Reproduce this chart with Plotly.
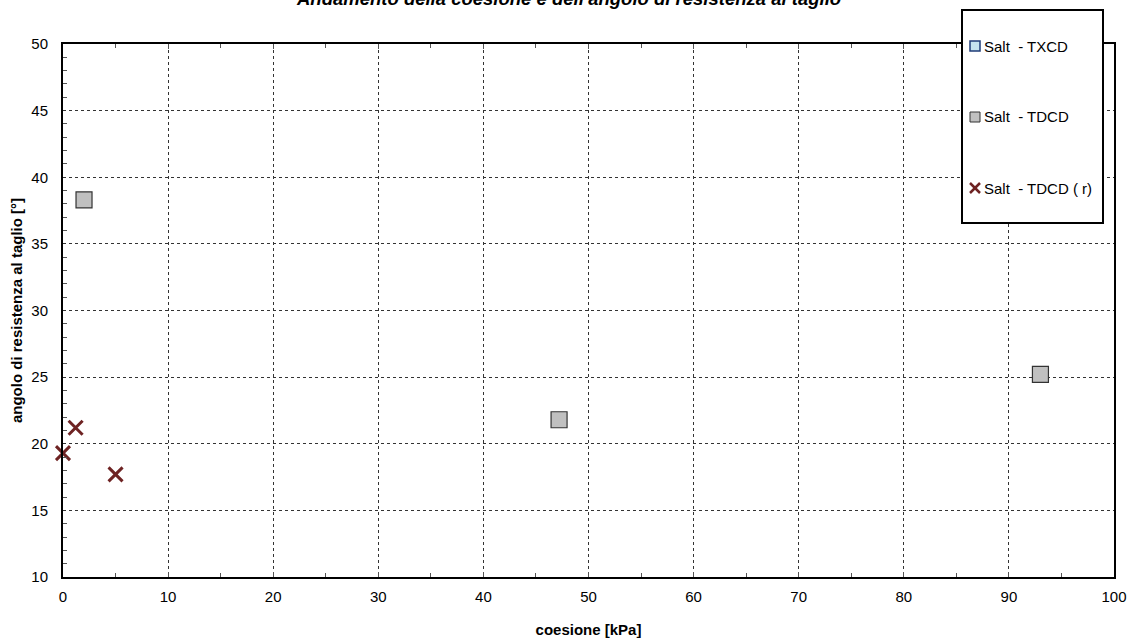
import plotly.graph_objects as go

# Prove di laboratorio: coesione [kPa] e angolo di resistenza al taglio [°]
txcd_c = []
txcd_phi = []
tdcd_c = [2.0, 47.2, 93.0]
tdcd_phi = [38.3, 21.8, 25.2]
tdcdr_c = [0.0, 1.2, 5.0]
tdcdr_phi = [19.3, 21.2, 17.7]

series_names = ["Salt  - TXCD", "Salt  - TDCD", "Salt  - TDCD ( r)"]
title_text = "Andamento della coesione e dell'angolo di resistenza al taglio"
x_title = "coesione [kPa]"
y_title = "angolo di resistenza al taglio [°]"

FONT = "Liberation Sans, Arial, sans-serif"
W, H = 1135, 638
ML, MR, MT, MB = 63, 21, 44, 61
PW, PH = W - ML - MR, H - MT - MB

TXCD_FILL, TXCD_EDGE = "#c5e4ef", "#1f3c78"
TDCD_FILL, TDCD_EDGE = "#c0c0c0", "#333333"
CROSS = "#6e2323"


def px(x):
    return (x - ML) / PW


def py(y):
    return 1 - (y - MT) / PH


fig = go.Figure()
fig.add_trace(go.Scatter(
    x=txcd_c, y=txcd_phi, mode="markers", name=series_names[0], cliponaxis=False,
    marker=dict(symbol="square", size=16, color=TXCD_FILL, line=dict(color=TXCD_EDGE, width=2)),
))
fig.add_trace(go.Scatter(
    x=tdcd_c, y=tdcd_phi, mode="markers", name=series_names[1], cliponaxis=False,
    marker=dict(symbol="square", size=16, color=TDCD_FILL, line=dict(color=TDCD_EDGE, width=1.2)),
))
fig.add_trace(go.Scatter(
    x=tdcdr_c, y=tdcdr_phi, mode="markers", name=series_names[2], cliponaxis=False,
    marker=dict(symbol="x-thin", size=14, color=CROSS, line=dict(color=CROSS, width=3)),
))

# Legend box drawn by hand so the entries can sit far apart inside a tall frame
shapes = [dict(
    type="rect", xref="paper", yref="paper", layer="above",
    x0=px(962), x1=px(1103), y0=py(223), y1=py(10),
    fillcolor="white", line=dict(color="black", width=2),
)]
annotations = []
entry_y = [46, 117, 188]
sx = 975
for name, ey, kind in zip(series_names, entry_y, ["sq_blue", "sq_grey", "cross"]):
    if kind == "cross":
        for (a, b) in [((-5, -5), (5, 5)), ((-5, 5), (5, -5))]:
            shapes.append(dict(
                type="line", xref="paper", yref="paper", layer="above",
                x0=px(sx + a[0]), y0=py(ey + a[1]), x1=px(sx + b[0]), y1=py(ey + b[1]),
                line=dict(color=CROSS, width=2.5),
            ))
    else:
        fill, edge, lw = (TXCD_FILL, TXCD_EDGE, 1.5) if kind == "sq_blue" else (TDCD_FILL, TDCD_EDGE, 1)
        shapes.append(dict(
            type="rect", xref="paper", yref="paper", layer="above",
            x0=px(sx - 5), x1=px(sx + 5), y0=py(ey + 5), y1=py(ey - 5),
            fillcolor=fill, line=dict(color=edge, width=lw),
        ))
    annotations.append(dict(
        text=name, xref="paper", yref="paper", x=px(982), y=py(ey),
        xanchor="left", yanchor="middle", showarrow=False,
        font=dict(family=FONT, size=15, color="black"),
    ))

annotations.append(dict(
    text="<b><i>" + title_text + "</i></b>",
    xref="paper", yref="paper", x=px(568), y=py(11),
    xanchor="center", yanchor="bottom", showarrow=False,
    font=dict(family=FONT, size=18.5, color="black"),
))

fig.update_layout(
    width=W, height=H,
    margin=dict(l=ML, r=MR, t=MT, b=MB, autoexpand=False),
    paper_bgcolor="white", plot_bgcolor="white",
    font=dict(family=FONT, size=15, color="black"),
    showlegend=False,
    shapes=shapes,
    annotations=annotations,
)

fig.update_xaxes(
    range=[0, 100], dtick=10, tick0=0, automargin=False,
    showgrid=True, gridcolor="#333333", griddash="dot", gridwidth=1,
    showline=True, linecolor="black", linewidth=2, mirror="ticks",
    ticks="inside", ticklen=5, tickcolor="#555555", tickwidth=1,
    minor=dict(dtick=5, ticks="inside", ticklen=4, tickcolor="#555555", showgrid=False),
    zeroline=False, ticklabelstandoff=5,
    tickfont=dict(family=FONT, size=15),
    title=dict(text="<b>" + x_title + "</b>", font=dict(family=FONT, size=15), standoff=24),
)
fig.update_yaxes(
    range=[10, 50], dtick=5, tick0=10, automargin=False,
    showgrid=True, gridcolor="#333333", griddash="dot", gridwidth=1,
    showline=True, linecolor="black", linewidth=2, mirror=True,
    ticks="",
    minor=dict(dtick=1, ticks="inside", ticklen=4, tickcolor="#555555", showgrid=False),
    zeroline=False, ticklabelstandoff=10,
    tickfont=dict(family=FONT, size=15),
    title=dict(text="<b>" + y_title + "</b>", font=dict(family=FONT, size=15), standoff=5),
)

fig.write_html("out.html")
